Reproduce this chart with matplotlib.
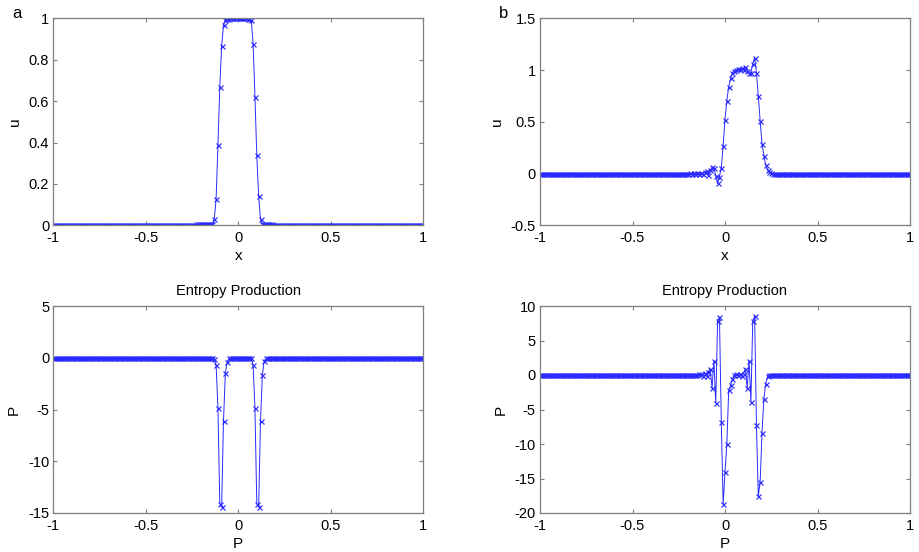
import numpy as np
import matplotlib
matplotlib.use("Agg")
import matplotlib.pyplot as plt

plt.rcParams['font.family'] = ['Liberation Sans', 'DejaVu Sans']

# grid of the solution (dx = 0.01)
x = np.round(np.linspace(-1, 1, 201), 2)

# --- panel a: u, values from x = -0.25 to 0.25 (zero outside)
a_start = -0.25
u_a_core = [0.0, 0.003, 0.004, 0.004, 0.004, 0.005, 0.005, 0.005, 0.005, 0.005, 0.006, 0.006,
            0.03, 0.125, 0.386, 0.67, 0.865, 0.966, 0.993,
            0.998, 0.999, 1.0, 1.0, 1.001, 1.0, 1.0, 1.0, 1.0, 1.001, 1.0, 0.999, 0.998,
            0.99, 0.878, 0.62, 0.338, 0.14, 0.03, 0.008,
            0.005, 0.004, 0.004, 0.004, 0.004, 0.003, 0.003, 0.003, 0.002, 0.0, 0.0, 0.0]

# --- panel b: u, values from x = -0.20 to 0.30
b_start = -0.20
u_b_core = [0.0, 0.002, 0.0, 0.003, 0.0, 0.005, 0.0, 0.008, 0.0, 0.015, 0.02, -0.01, 0.03,
            0.064, 0.055, -0.02, -0.096, -0.03, 0.055, 0.27, 0.52, 0.705, 0.84, 0.92, 0.974,
            0.993, 1.0, 1.006, 1.01, 1.016, 1.0, 1.03, 0.99, 0.968, 0.974, 1.06, 1.118, 0.974,
            0.75, 0.51, 0.29, 0.173, 0.087, 0.038, 0.013, 0.003, 0.0, 0.0, 0.0, 0.0, 0.0]

# --- panel c: entropy production, values from x = -0.20 to 0.20
c_start = -0.20
p_c_core = [0.0, 0.0, 0.0, 0.0, 0.0, 0.0, -0.02, -0.1, -0.7, -4.9, -14.1, -14.4, -6.1, -1.5,
            -0.4, -0.05, 0.0, 0.0, 0.0, 0.0, 0.0, 0.0, 0.0, 0.0, 0.0, 0.0, 0.0, -0.05, -0.7,
            -4.9, -14.1, -14.4, -6.1, -1.7, -0.3, -0.05, 0.0, 0.0, 0.0, 0.0, 0.0]

# --- panel d: entropy production, values from x = -0.20 to 0.30
d_start = -0.20
p_d_core = [0.0, 0.0, 0.0, 0.0, 0.0, 0.0, 0.1, 0.1, -0.1, 0.3, -0.2, 0.5, 0.9, -1.9, 2.1,
            -4.1, 7.8, 8.4, -6.8, -18.7, -14.0, -10.0, -2.2, -1.5, -0.6, 0.0, 0.1, 0.0, 0.2,
            -0.2, 0.2, 0.9, -1.9, 2.1, -3.9, 7.8, 8.5, -7.3, -17.6, -15.5, -8.4, -3.5, -1.3,
            -0.2, 0.0, 0.0, 0.0, 0.0, 0.0, 0.0, 0.0]


def full(core, start):
    y = np.zeros_like(x)
    i0 = int(round((start + 1) / 0.01))
    y[i0:i0 + len(core)] = core
    return y


xticks = [-1, -0.5, 0, 0.5, 1]
xticklabels = ['-1', '-0.5', '0', '0.5', '1']

panels = [
    dict(y=full(u_a_core, a_start), ylim=(0, 1), yticks=[0, 0.2, 0.4, 0.6, 0.8, 1],
         yticklabels=['0', '0.2', '0.4', '0.6', '0.8', '1'], xlabel='x', ylabel='u',
         title=None, letter='a'),
    dict(y=full(u_b_core, b_start), ylim=(-0.5, 1.5), yticks=[-0.5, 0, 0.5, 1, 1.5],
         yticklabels=['-0.5', '0', '0.5', '1', '1.5'], xlabel='x', ylabel='u',
         title=None, letter='b'),
    dict(y=full(p_c_core, c_start), ylim=(-15, 5), yticks=[-15, -10, -5, 0, 5],
         yticklabels=['-15', '-10', '-5', '0', '5'], xlabel='P', ylabel='P',
         title='Entropy Production', letter=None),
    dict(y=full(p_d_core, d_start), ylim=(-20, 10), yticks=[-20, -15, -10, -5, 0, 5, 10],
         yticklabels=['-20', '-15', '-10', '-5', '0', '5', '10'], xlabel='P', ylabel='P',
         title='Entropy Production', letter=None),
]

W, H = 919, 552
fig = plt.figure(figsize=(W / 100, H / 100), dpi=100)
lefts = [53.3, 540.0]
tops = [18.3, 306.0]
aw, ah = 370.0, 207.0
spine_c = '#7f7f7f'
fs = 10.5

for k, p in enumerate(panels):
    col, row = k % 2, k // 2
    ax = fig.add_axes([lefts[col] / W, 1 - (tops[row] + ah) / H, aw / W, ah / H])
    ax.plot(x, p['y'], color='#2a2aff', lw=0.7, marker='x', ms=3.6, mew=0.85)
    ax.set_xlim(-1, 1)
    ax.set_ylim(*p['ylim'])
    ax.set_xticks(xticks)
    ax.set_xticklabels(xticklabels)
    ax.set_yticks(p['yticks'])
    ax.set_yticklabels(p['yticklabels'])
    ax.tick_params(direction='in', length=3, width=0.8, color=spine_c, labelsize=fs,
                   top=True, right=True)
    ax.tick_params(axis='x', pad=4)
    ax.tick_params(axis='y', pad=3)
    for s in ax.spines.values():
        s.set_color(spine_c)
        s.set_linewidth(0.9)
    ax.set_xlabel(p['xlabel'], fontsize=fs + 0.5, labelpad=3)
    ax.set_ylabel(p['ylabel'], fontsize=fs + 0.5, labelpad=5)
    if p['title']:
        ax.set_title(p['title'], fontsize=fs, pad=8)
    if p['letter']:
        fig.text((lefts[col] - 36) / W, 1 - 13 / H, p['letter'], fontsize=fs + 1.5,
                 ha='center', va='center')

fig.savefig('out.png', dpi=100)
